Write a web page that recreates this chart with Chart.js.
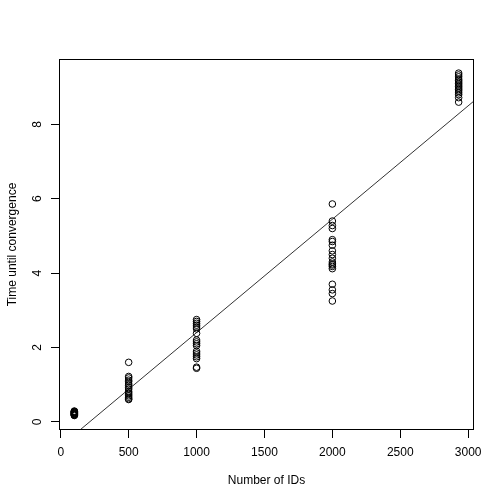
<!DOCTYPE html>
<html>
<head>
<meta charset="utf-8">
<script src="https://cdn.jsdelivr.net/npm/chart.js@4"></script>
<style>
  html, body { margin: 0; padding: 0; background: #fff; }
  #wrap { width: 504px; height: 504px; }
</style>
</head>
<body>
<div id="wrap"><canvas id="chart" width="504" height="504"></canvas></div>
<script>
// number of IDs in each run group
const nIds = [100, 500, 1000, 2000, 2930];

// time until convergence, one array per group
const time100 = [0.17, 0.18, 0.19, 0.2, 0.21, 0.22, 0.23, 0.24, 0.25, 0.26, 0.27, 0.28, 0.29];
const time500 = [1.6, 1.22, 1.18, 1.12, 1.08, 1.02, 0.98, 0.92, 0.88, 0.82, 0.78, 0.74, 0.7, 0.66, 0.62, 0.6];
const time1000 = [2.75, 2.7, 2.65, 2.6, 2.55, 2.5, 2.38, 2.2, 2.15, 2.1, 2.05, 1.9, 1.85, 1.8, 1.75, 1.7, 1.47, 1.44];
const time2000 = [5.86, 5.4, 5.28, 5.2, 4.9, 4.85, 4.75, 4.6, 4.5, 4.4, 4.3, 4.25, 4.22, 4.18, 4.12, 3.7, 3.55, 3.45, 3.25];
const time2930 = [9.38, 9.33, 9.28, 9.22, 9.18, 9.14, 9.1, 9.06, 9.02, 8.98, 8.94, 8.9, 8.85, 8.8, 8.72, 8.6];

// fitted line
const fitIntercept = -0.65;
const fitSlope = 0.00305;

const xTicks = [0, 500, 1000, 1500, 2000, 2500, 3000];
const yTicks = [0, 2, 4, 6, 8];
const xRange = [-13, 3043];
const yRange = [-0.22, 9.76];

const groups = [time100, time500, time1000, time2000, time2930];
const points = [];
groups.forEach((vals, i) => {
  vals.forEach((v) => points.push({ x: nIds[i], y: v }));
});

const fitLine = xRange.map((x) => ({ x: x, y: fitIntercept + fitSlope * x }));

const FONT = { family: "'Liberation Sans', Arial, sans-serif", size: 12 };

// box around the plot region + rotated y tick labels (R style)
const rStyle = {
  id: "rStyle",
  afterDraw(chart) {
    const { ctx, chartArea, scales } = chart;
    ctx.save();
    ctx.strokeStyle = "#000";
    ctx.lineWidth = 1;
    ctx.strokeRect(chartArea.left + 0.5, chartArea.top + 0.5,
      chartArea.right - chartArea.left - 1, chartArea.bottom - chartArea.top - 1);

    ctx.fillStyle = "#000";
    ctx.font = "12px 'Liberation Sans', Arial, sans-serif";
    ctx.textAlign = "center";
    ctx.textBaseline = "middle";
    yTicks.forEach((t) => {
      const y = scales.y.getPixelForValue(t);
      ctx.save();
      ctx.translate(38, y);
      ctx.rotate(-Math.PI / 2);
      ctx.fillText(String(t), 0, 0);
      ctx.restore();
    });
    ctx.restore();
  },
};

new Chart(document.getElementById("chart"), {
  type: "scatter",
  data: {
    datasets: [
      {
        label: "runs",
        data: points,
        pointStyle: "circle",
        pointRadius: 3.3,
        pointBackgroundColor: "rgba(0,0,0,0)",
        pointBorderColor: "#000",
        pointBorderWidth: 1,
        showLine: false,
      },
      {
        label: "fit",
        type: "line",
        data: fitLine,
        borderColor: "#333",
        borderWidth: 1,
        pointRadius: 0,
        fill: false,
      },
    ],
  },
  options: {
    responsive: false,
    animation: false,
    layout: { padding: { top: 59, right: 30, left: 0, bottom: 0 } },
    plugins: {
      legend: { display: false },
      tooltip: { enabled: false },
    },
    scales: {
      x: {
        type: "linear",
        min: xRange[0],
        max: xRange[1],
        afterBuildTicks: (s) => { s.ticks = xTicks.map((v) => ({ value: v })); },
        afterFit: (s) => { s.height = 74; },
        grid: { drawOnChartArea: false, drawTicks: true, tickLength: 8, color: "#000" },
        border: { display: false },
        ticks: { color: "#000", font: FONT, padding: 7, maxRotation: 0, autoSkip: false,
          callback: (v) => String(v) },
        title: { display: true, text: "Number of IDs", color: "#000", font: FONT, padding: { top: 16, bottom: 16 } },
      },
      y: {
        type: "linear",
        min: yRange[0],
        max: yRange[1],
        afterBuildTicks: (s) => { s.ticks = yTicks.map((v) => ({ value: v })); },
        afterFit: (s) => { s.width = 59; },
        grid: { drawOnChartArea: false, drawTicks: true, tickLength: 8, color: "#000" },
        border: { display: false },
        ticks: { display: false },
        title: { display: true, text: "Time until convergence", color: "#000", font: FONT, padding: { top: 5, bottom: 5 } },
      },
    },
  },
  plugins: [rStyle],
});
</script>
</body>
</html>
